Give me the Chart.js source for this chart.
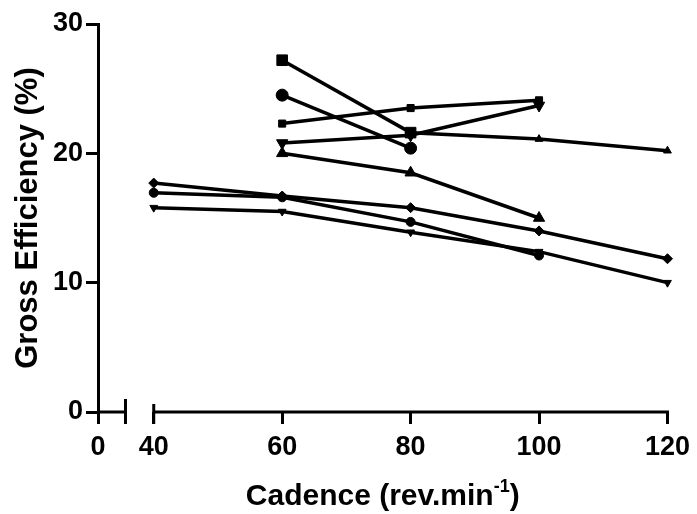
<!DOCTYPE html>
<html><head><meta charset="utf-8">
<script src="https://cdn.jsdelivr.net/npm/chart.js@4"></script>
<style>html,body{margin:0;padding:0;background:#fff}</style>
</head><body>
<canvas id="c" width="697" height="514"></canvas>
<script>
// ---- data ----
const yTickValues = [0, 10, 20, 30];
const xTickValues = [40, 60, 80, 100, 120];
const xZeroLabel = '0';

const bigSquareX = [60, 80];            const bigSquareY = [27.2, 21.6];
const bigCircleX = [60, 80];            const bigCircleY = [24.5, 20.4];
const smallSquareX = [60, 80, 100];     const smallSquareY = [22.3, 23.5, 24.1];
const bigDownTriX = [60, 80, 100];      const bigDownTriY = [20.8, 21.4, 23.7];
const smallUpTriX = [80, 100, 120];     const smallUpTriY = [21.6, 21.1, 20.2];
const bigUpTriX = [60, 80, 100];        const bigUpTriY = [20.0, 18.5, 15.0];
const diamondX = [40, 60, 80, 100, 120]; const diamondY = [17.7, 16.7, 15.8, 14.0, 11.85];
const smallCircleX = [40, 60, 80, 100]; const smallCircleY = [16.95, 16.6, 14.7, 12.1];
const smallDownTriX = [40, 60, 80, 100, 120]; const smallDownTriY = [15.8, 15.5, 13.9, 12.4, 10.0];

// ---- layout constants (axis break) ----
const X_ZERO_POS = 31.32;   // where the "0" of the broken axis sits
const BREAK_END = 35.6;     // end of the short first segment
const FONT = '"Liberation Sans", Arial, Helvetica, sans-serif';

function pts(xs, ys) { return xs.map((x, i) => ({ x: x, y: ys[i] })); }
function ds(xs, ys, style, r, rot) {
  return {
    data: pts(xs, ys), borderColor: '#000', borderWidth: 3.5, tension: 0,
    pointStyle: style, pointRadius: r, pointRotation: rot || 0,
    pointBackgroundColor: '#000', pointBorderColor: '#000', pointBorderWidth: 1,
    fill: false, clip: false
  };
}

const datasets = [
  ds(bigSquareX, bigSquareY, 'rect', 7.5),
  ds(bigCircleX, bigCircleY, 'circle', 6),
  ds(smallSquareX, smallSquareY, 'rect', 5),
  ds(bigDownTriX, bigDownTriY, 'triangle', 6.5, 180),
  ds(smallUpTriX, smallUpTriY, 'triangle', 4.5),
  ds(bigUpTriX, bigUpTriY, 'triangle', 6.5),
  ds(diamondX, diamondY, 'rectRot', 5),
  ds(smallCircleX, smallCircleY, 'circle', 4.5),
  ds(smallDownTriX, smallDownTriY, 'triangle', 4.5, 180)
];

const axisBreak = {
  id: 'axisBreak',
  afterDraw(chart) {
    const xs = chart.scales.x, ctx = chart.ctx, y0 = chart.chartArea.bottom;
    const p0 = xs.getPixelForValue(X_ZERO_POS), pb = xs.getPixelForValue(BREAK_END);
    const p40 = xs.getPixelForValue(xTickValues[0]), pEnd = xs.getPixelForValue(xTickValues[xTickValues.length - 1]);
    ctx.save();
    ctx.strokeStyle = '#000'; ctx.lineWidth = 3; ctx.lineCap = 'butt';
    ctx.beginPath();
    ctx.moveTo(p0, y0); ctx.lineTo(pb, y0);
    ctx.moveTo(pb, y0 - 13); ctx.lineTo(pb, y0 + 12);
    ctx.moveTo(p40, y0); ctx.lineTo(pEnd + 1.5, y0);
    ctx.moveTo(p40, y0 - 8); ctx.lineTo(p40, y0 + 12);
    ctx.stroke();
    // x-axis title with superscript
    const main = 'Cadence (rev.min', sup = '-1', close = ')';
    ctx.fillStyle = '#000'; ctx.textBaseline = 'alphabetic';
    const fBig = 'bold 30px ' + FONT, fSmall = 'bold 18px ' + FONT;
    ctx.font = fBig; const w1 = ctx.measureText(main).width, w3 = ctx.measureText(close).width;
    ctx.font = fSmall; const w2 = ctx.measureText(sup).width;
    const cx = (chart.chartArea.left + chart.chartArea.right) / 2;
    let x = cx - (w1 + w2 + w3) / 2;
    const base = 505;
    ctx.font = fBig; ctx.textAlign = 'left'; ctx.fillText(main, x, base); x += w1;
    ctx.font = fSmall; ctx.fillText(sup, x, base - 13); x += w2;
    ctx.font = fBig; ctx.fillText(close, x, base);
    ctx.restore();
  }
};

const tickFont = { family: FONT, size: 27, weight: 'bold' };

new Chart(document.getElementById('c'), {
  type: 'line',
  data: { datasets: datasets },
  plugins: [axisBreak],
  options: {
    responsive: false, animation: false, devicePixelRatio: 1,
    layout: { padding: { left: 0, right: 27, top: 24, bottom: 0 } },
    plugins: { legend: { display: false }, tooltip: { enabled: false } },
    scales: {
      x: {
        type: 'linear', min: X_ZERO_POS, max: 120,
        afterBuildTicks: s => { s.ticks = [X_ZERO_POS].concat(xTickValues).map(v => ({ value: v })); },
        afterFit: s => { s.height = 102; },
        ticks: {
          autoSkip: false, maxRotation: 0, padding: 7, color: '#000', font: tickFont,
          callback: v => (v === X_ZERO_POS ? xZeroLabel : String(v))
        },
        grid: { display: true, drawOnChartArea: false, drawTicks: true, tickLength: 12, lineWidth: 3, color: '#000' },
        border: { display: false }
      },
      y: {
        type: 'linear', min: 0, max: 30,
        afterBuildTicks: s => { s.ticks = yTickValues.map(v => ({ value: v })); },
        afterFit: s => { s.width = 98; },
        ticks: { padding: 3, color: '#000', font: tickFont },
        grid: { display: true, drawOnChartArea: false, drawTicks: true, tickLength: 12, lineWidth: 3, color: '#000' },
        border: { display: true, width: 3, color: '#000' },
        title: { display: true, text: 'Gross Efficiency (%)', color: '#000',
                 font: { family: FONT, size: 31, weight: 'bold' }, padding: { top: 10, bottom: 0 } }
      }
    }
  }
});
</script>
</body></html>
